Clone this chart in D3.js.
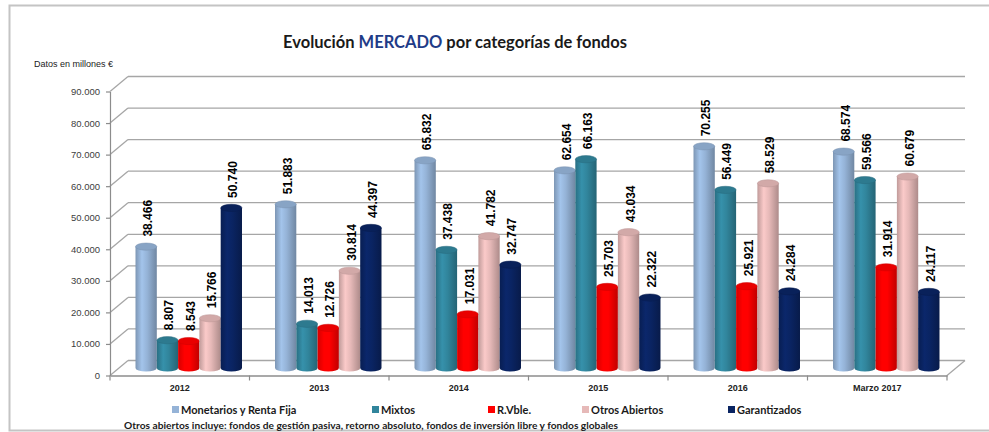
<!DOCTYPE html>
<html>
<head>
<meta charset="utf-8">
<script src="https://cdn.jsdelivr.net/npm/d3@7"></script>
<style>
  body { margin: 0; background: #fff; }
  svg { display: block; }
</style>
</head>
<body>
<script>
// data (millones de euros)
var categories = ["2012", "2013", "2014", "2015", "2016", "Marzo 2017"];
var seriesNames = ["Monetarios y Renta Fija", "Mixtos", "R.Vble.", "Otros Abiertos", "Garantizados"];
var monetarios = [38466, 51883, 65832, 62654, 70255, 68574];
var mixtos = [8807, 14013, 37438, 66163, 56449, 59566];
var rvble = [8543, 12726, 17031, 25703, 25921, 31914];
var otrosAbiertos = [15766, 30814, 41782, 43034, 58529, 60679];
var garantizados = [50740, 44397, 32747, 22322, 24284, 24117];
var yTicks = [0, 10000, 20000, 30000, 40000, 50000, 60000, 70000, 80000, 90000];
var seriesColors = ["#95B3D7", "#31859C", "#FF0000", "#E6B9B8", "#0A2462"];

var svgWidth = 989;
var svgHeight = 432;

var plot = { left: 110, right: 947, top: 91.5, bottom: 375.5 };
var depth = { dx: 18, dy: -15 };

var svg = d3.select("body")
    .append("svg")
    .attr("width", svgWidth)
    .attr("height", svgHeight)
    .style("font-family", "'Liberation Sans', Arial, sans-serif");

// outer frame
svg.append("rect")
    .attr("x", 9.5).attr("y", 5.5)
    .attr("width", 1000).attr("height", 425)
    .attr("fill", "#fff")
    .attr("stroke", "#c4c4c4")
    .attr("stroke-width", 2);

var locale = d3.formatLocale({ decimal: ",", thousands: ".", grouping: [3], currency: ["", "€"] });
var fmt = locale.format(",d");

var xScale = d3.scaleBand().domain(categories).range([plot.left, plot.right]);
var xInner = d3.scaleBand().domain(seriesNames).range([0, xScale.bandwidth()]).paddingOuter(0.775);
var yScale = d3.scaleLinear().domain([0, 90000]).range([plot.bottom, plot.top]);

var gridColor = "#a6a6a6";

// back wall gridlines + side wall diagonals
var grid = svg.append("g");
grid.selectAll(".back")
    .data(yTicks)
    .enter()
    .append("line")
    .attr("x1", plot.left + depth.dx)
    .attr("x2", plot.right + depth.dx)
    .attr("y1", d => yScale(d) + depth.dy)
    .attr("y2", d => yScale(d) + depth.dy)
    .attr("stroke", gridColor)
    .attr("stroke-width", 1.3);

grid.selectAll(".side")
    .data(yTicks)
    .enter()
    .append("line")
    .attr("x1", plot.left)
    .attr("x2", plot.left + depth.dx)
    .attr("y1", d => yScale(d))
    .attr("y2", d => yScale(d) + depth.dy)
    .attr("stroke", gridColor)
    .attr("stroke-width", 1.3);

// floor: right diagonal + front edge
grid.append("line")
    .attr("x1", plot.right).attr("y1", yScale(0))
    .attr("x2", plot.right + depth.dx).attr("y2", yScale(0) + depth.dy)
    .attr("stroke", gridColor).attr("stroke-width", 1.3);

// y axis
var leftAxis = d3.axisLeft(yScale)
    .tickValues(yTicks)
    .tickFormat(fmt)
    .tickSize(4)
    .tickSizeOuter(0)
    .tickPadding(6);

var yAxisG = svg.append("g")
    .attr("transform", `translate(${plot.left},0)`)
    .call(leftAxis);
yAxisG.selectAll("path, line").attr("stroke", "#8c8c8c").attr("stroke-width", 1.2);
yAxisG.selectAll("text")
    .attr("fill", "#404040")
    .style("font-size", "9.5px");

// x axis
var bottomAxis = d3.axisBottom(xScale).tickSize(0).tickSizeOuter(0).tickPadding(9);
var xAxisG = svg.append("g")
    .attr("transform", `translate(0,${plot.bottom})`)
    .call(bottomAxis);
xAxisG.select("path").attr("stroke", "#8c8c8c").attr("stroke-width", 1.3);
xAxisG.selectAll("text")
    .attr("fill", "#222")
    .style("font-size", "9px")
    .style("font-weight", "bold");

// boundary ticks between categories
xAxisG.selectAll(".sep")
    .data(categories.concat(["end"]))
    .enter()
    .append("line")
    .attr("x1", (d, i) => i < categories.length ? xScale(d) : plot.right)
    .attr("x2", (d, i) => i < categories.length ? xScale(d) : plot.right)
    .attr("y1", 0)
    .attr("y2", 5)
    .attr("stroke", "#8c8c8c")
    .attr("stroke-width", 1.2);

// cylinder gradients
var defs = svg.append("defs");
seriesColors.forEach(function(c, i) {
    var base = d3.color(c);
    var g = defs.append("linearGradient")
        .attr("id", "cyl" + i)
        .attr("x1", "0%").attr("x2", "100%")
        .attr("y1", "0%").attr("y2", "0%");
    g.append("stop").attr("offset", "0%").attr("stop-color", base.darker(0.5));
    g.append("stop").attr("offset", "30%").attr("stop-color", base.brighter(0.25));
    g.append("stop").attr("offset", "55%").attr("stop-color", base);
    g.append("stop").attr("offset", "100%").attr("stop-color", base.darker(0.8));
});

var seriesValues = [monetarios, mixtos, rvble, otrosAbiertos, garantizados];

var bars = [];
categories.forEach(function(cat, j) {
    seriesNames.forEach(function(name, i) {
        bars.push({ cat: cat, name: name, si: i, value: seriesValues[i][j] });
    });
});

var bw = xInner.bandwidth();
var rx = bw / 2;
var ry = 3.6;
var baseY = yScale(0) + depth.dy / 2;

function barX(d) { return xScale(d.cat) + xInner(d.name) + depth.dx / 2; }
function barTop(d) { return yScale(d.value) + depth.dy / 2; }

var barG = svg.append("g");

var cyl = barG.selectAll("g.bar")
    .data(bars)
    .enter()
    .append("g")
    .attr("class", "bar");

cyl.append("path")
    .attr("d", function(d) {
        var x = barX(d), t = barTop(d);
        return `M${x},${t} L${x},${baseY} A${rx},${ry} 0 0 0 ${x + bw},${baseY} L${x + bw},${t} Z`;
    })
    .attr("fill", d => `url(#cyl${d.si})`);

cyl.append("ellipse")
    .attr("cx", d => barX(d) + rx)
    .attr("cy", d => barTop(d))
    .attr("rx", rx)
    .attr("ry", ry)
    .attr("fill", d => d3.color(seriesColors[d.si]).darker(0.25))
    .attr("stroke", d => d3.color(seriesColors[d.si]).darker(0.6))
    .attr("stroke-width", 0.5);

// data labels
barG.selectAll("text.lbl")
    .data(bars)
    .enter()
    .append("text")
    .attr("class", "lbl")
    .attr("transform", d => `translate(${barX(d) + rx + 2},${barTop(d) - 10}) rotate(-90)`)
    .attr("dominant-baseline", "central")
    .style("font-size", "12px")
    .style("font-weight", "bold")
    .attr("fill", "#000")
    .text(d => fmt(d.value));

// title
var title = svg.append("text")
    .attr("x", 455)
    .attr("y", 48)
    .attr("text-anchor", "middle")
    .style("font-family", "Lato, 'Open Sans', sans-serif")
    .style("font-size", "16.5px")
    .style("font-weight", "bold")
    .attr("fill", "#1a1a1a");
title.append("tspan").text("Evolución ");
title.append("tspan").attr("fill", "#1F3C88").text("MERCADO");
title.append("tspan").text(" por categorías de fondos");

svg.append("text")
    .attr("x", 34)
    .attr("y", 67)
    .style("font-size", "9px")
    .attr("fill", "#222")
    .text("Datos en millones €");

// legend
var legendX = [172, 372, 488, 582, 728];
var legend = svg.append("g")
    .selectAll("g")
    .data(seriesNames)
    .enter()
    .append("g")
    .attr("transform", (d, i) => `translate(${legendX[i]},410)`);

legend.append("rect")
    .attr("x", 0).attr("y", -4)
    .attr("width", 7).attr("height", 7)
    .attr("fill", (d, i) => seriesColors[i]);

legend.append("text")
    .attr("x", 9)
    .attr("y", 4)
    .style("font-family", "Lato, 'Open Sans', sans-serif")
    .style("font-size", "11px")
    .style("font-weight", "bold")
    .attr("fill", "#1a1a1a")
    .text(d => d);

// footnote
svg.append("text")
    .attr("x", 124)
    .attr("y", 429)
    .style("font-family", "Lato, 'Open Sans', sans-serif")
    .style("font-size", "10.2px")
    .style("font-weight", "bold")
    .attr("fill", "#1a1a1a")
    .text("Otros abiertos incluye: fondos de gestión pasiva, retorno absoluto, fondos de inversión libre y fondos globales");
</script>
</body>
</html>
